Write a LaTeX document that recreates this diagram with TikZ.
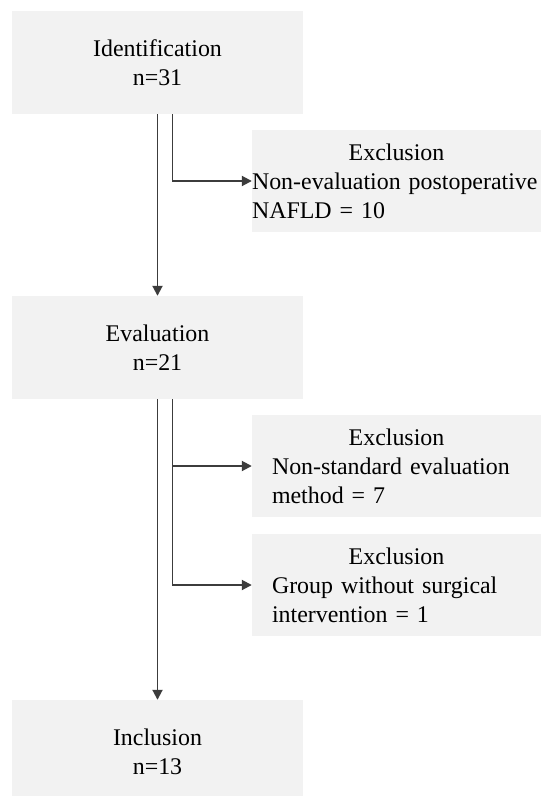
\documentclass[tikz,border=0pt]{standalone}
\usepackage{fontspec}
\setmainfont{Liberation Serif}
\usetikzlibrary{arrows.meta}
\definecolor{boxfill}{HTML}{F2F2F2}
\definecolor{linecol}{HTML}{3C3C3C}
\tikzset{
  mainbox/.style={rectangle, fill=boxfill, draw=none, inner sep=0pt,
    minimum width=291bp, minimum height=103bp, align=center,
    font=\fontsize{24}{29}\selectfont},
  exbox/.style={rectangle, fill=boxfill, draw=none, inner sep=0pt,
    minimum width=289bp, minimum height=102bp, text width=#1, align=left,
    font=\fontsize{24}{29}\selectfont},
  conn/.style={draw=linecol, line width=1.9bp, -{Triangle[length=10bp,width=10bp]}},
}
\begin{document}
\begin{tikzpicture}[x=1bp,y=-1bp]
\clip (0,0) rectangle (541,796);
\fill[white] (0,0) rectangle (541,796);
\node[mainbox] (id) at (157.5,62.5) {Identification\\n=31};
\node[exbox=289bp] (ex1) at (396.5,181) {{\centering Exclusion\par}Non-evaluation postoperative\\NAFLD = 10};
\node[mainbox] (ev) at (157.5,347.5) {Evaluation\\n=21};
\node[exbox=249bp] (ex2) at (396.5,466) {{\centering Exclusion\par}Non-standard evaluation\\method = 7};
\node[exbox=249bp] (ex3) at (396.5,585) {{\centering Exclusion\par}Group without surgical\\intervention = 1};
\node[mainbox, minimum height=104bp] (inc) at (157.5,752) {Inclusion\\n=13};
\draw[conn] (id.south) -- (ev.north);
\draw[conn] ([xshift=15bp]id.south) |- (ex1.west);
\draw[conn] ([xshift=15bp]ev.south) |- (ex2.west);
\draw[conn] ([xshift=15bp]ev.south) |- (ex3.west);
\draw[conn] (ev.south) -- (inc.north);
\end{tikzpicture}
\end{document}
